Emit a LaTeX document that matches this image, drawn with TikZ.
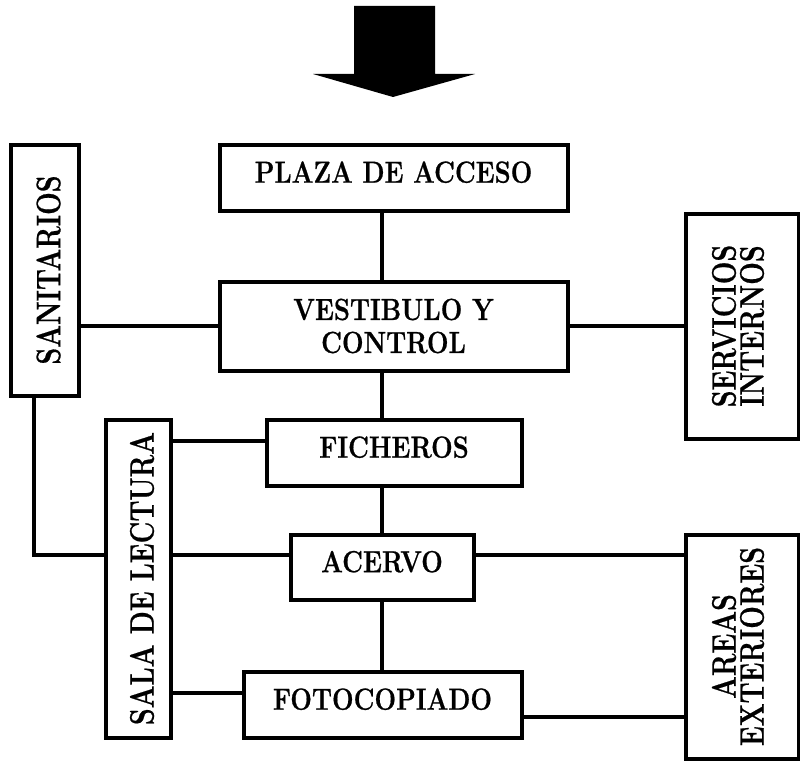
\documentclass[tikz,border=0pt]{standalone}
\usepackage{graphicx}
\usepackage{fontspec}
\setmainfont{Latin Modern Roman}[BoldFeatures={FakeBold=0.7}]
\newcommand{\cnd}[1]{\scalebox{0.79}[1]{#1}}
\newcommand{\hcnd}[1]{\scalebox{0.84}[1]{#1}}
\begin{document}
\begin{tikzpicture}[x=1pt,y=-1pt,
  frame/.style={draw=black, line width=4pt, inner sep=0pt},
  hlabel/.style={frame, font=\fontsize{30.5}{33}\selectfont\bfseries},
  onel/.style={text depth=11pt},
  vlabel/.style={inner sep=0pt, rotate=90, align=center, font=\fontsize{34}{28}\selectfont\bfseries},
  link/.style={draw=black, line width=3.4pt}]
\useasboundingbox (0,0) rectangle (800,765);
% entrance arrow
\fill[black] (354,6) -- (435,6) -- (435,74) -- (475,74) -- (393,97) -- (313,74) -- (354,74) -- cycle;
% boxes
\node[hlabel, onel, minimum width=348, minimum height=66] (plaza) at (393.5,177.5) {\hcnd{PLAZA DE ACCESO}};
\node[hlabel, align=center, minimum width=348, minimum height=89] (vest) at (393.5,326) {\hcnd{VESTIBULO Y}\\\hcnd{CONTROL}};
\node[hlabel, onel, minimum width=255, minimum height=66] (fich) at (394,452.5) {\hcnd{FICHEROS}};
\node[hlabel, onel, minimum width=183, minimum height=65] (acervo) at (382,567) {\hcnd{ACERVO}};
\node[hlabel, onel, minimum width=278, minimum height=66] (foto) at (382.5,704.5) {\hcnd{FOTOCOPIADO}};
\node[frame, minimum width=68, minimum height=251] (sanit) at (44.5,270) {};
\node[vlabel] (sanitT) at ([xshift=4pt]sanit.center) {\cnd{SANITARIOS}};
\node[frame, minimum width=65, minimum height=318] (sala) at (138,578.5) {};
\node[vlabel] (salaT) at ([xshift=4pt]sala.center) {\cnd{SALA DE LECTURA}};
\node[frame, minimum width=113, minimum height=225] (serv) at (742,326) {};
\node[vlabel] (servT) at ([xshift=-4pt]serv.center) {\cnd{SERVICIOS}\\\cnd{INTERNOS}};
\node[frame, minimum width=113, minimum height=224] (areas) at (742,646.5) {};
\node[vlabel] (areasT) at ([xshift=-4pt]areas.center) {\cnd{AREAS}\\\cnd{EXTERIORES}};
% connectors
\draw[link] (plaza.south -| acervo.center) -- (vest.north -| acervo.center);
\draw[link] (vest.south -| acervo.center) -- (fich.north -| acervo.center);
\draw[link] (fich.south -| acervo.center) -- (acervo.north);
\draw[link] (acervo.south) -- (foto.north -| acervo.center);
\draw[link] (vest.west) -- (vest.west -| sanit.east);
\draw[link] (vest.east) -- (vest.east -| serv.west);
\draw[link] ([yshift=11.5pt]fich.west) -- ([yshift=11.5pt]fich.west -| sala.east);
\draw[link] ([yshift=12pt]acervo.west) -- ([yshift=12pt]acervo.west -| sala.east);
\draw[link] ([yshift=12pt]acervo.east) -- ([yshift=12pt]acervo.east -| areas.west);
\draw[link] ([yshift=11.5pt]foto.west) -- ([yshift=11.5pt]foto.west -| sala.east);
\draw[link] ([yshift=-12.5pt]foto.east) -- ([yshift=-12.5pt]foto.east -| areas.west);
\draw[link] ([xshift=-10.5pt]sanit.south) |- ([yshift=12pt]acervo.west -| sala.west);
\end{tikzpicture}
\end{document}
